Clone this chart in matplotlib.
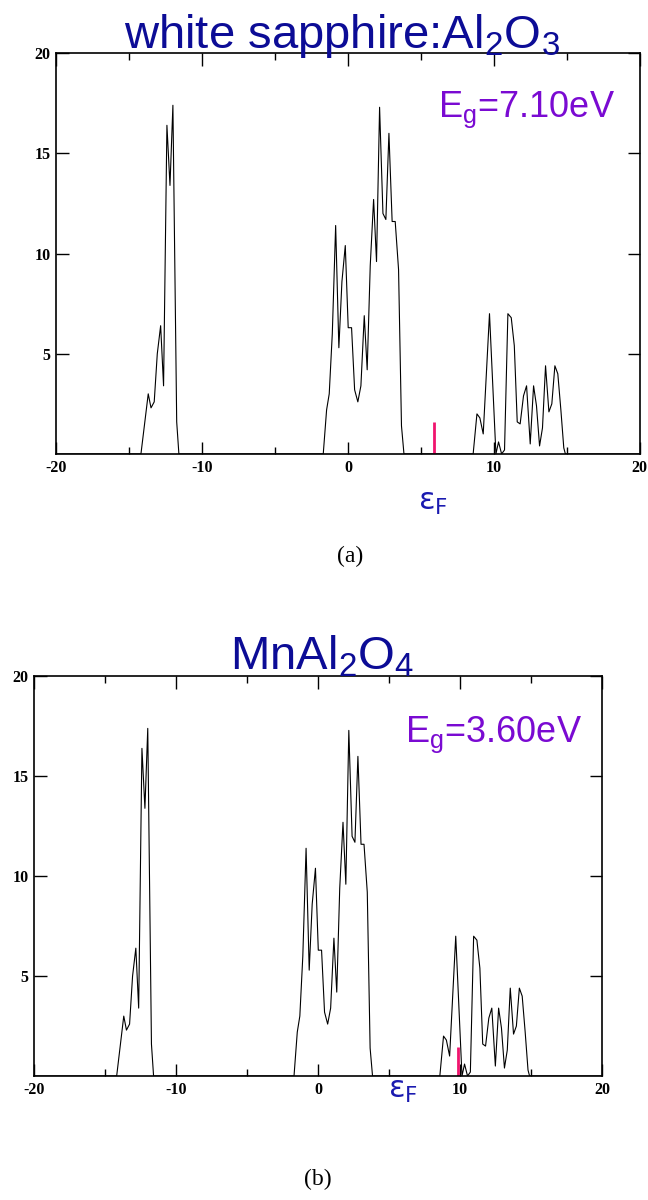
import matplotlib
matplotlib.use("Agg")
import matplotlib.pyplot as plt
from matplotlib.ticker import MultipleLocator

# density of states (same curve in both panels)
energy = [-20, -14.18, -13.68, -13.49, -13.27, -13.06, -12.83, -12.63, -12.40,
          -12.19, -11.99, -11.73, -11.58,
          -1.69, -1.46, -1.28, -1.07, -0.84, -0.62, -0.41, -0.18, 0.02, 0.25,
          0.46, 0.68, 0.89, 1.12, 1.32, 1.53, 1.76, 1.96, 2.17, 2.40, 2.60,
          2.81, 3.03, 3.24, 3.47, 3.67, 3.84,
          8.58, 8.84, 9.04, 9.27, 9.70, 10.14, 10.32, 10.53, 10.73, 10.96,
          11.19, 11.40, 11.60, 11.80, 12.03, 12.24, 12.49, 12.72, 12.92, 13.13,
          13.33, 13.54, 13.77, 13.97, 14.18, 14.38, 14.59, 14.79, 14.90, 20]
dos = [0, 0, 3.0, 2.3, 2.6, 5.0, 6.4, 3.4, 16.4,
       13.4, 17.4, 1.6, 0,
       0, 2.2, 3.0, 6.0, 11.4, 5.3, 8.6, 10.4, 6.3, 6.3,
       3.2, 2.6, 3.4, 6.9, 4.2, 9.4, 12.7, 9.6, 17.3, 12.0, 11.7,
       16.0, 11.6, 11.6, 9.2, 1.4, 0,
       0, 2.0, 1.8, 1.0, 7.0, 0, 0.6, 0, 0.2, 7.0,
       6.8, 5.4, 1.6, 1.5, 2.9, 3.4, 0.5, 3.4, 2.4, 0.4,
       1.3, 4.4, 2.1, 2.5, 4.4, 4.0, 2.2, 0.3, 0, 0]

titles = ["white sapphire:Al$_2$O$_3$", "MnAl$_2$O$_4$"]
gap_labels = ["E$_g$=7.10eV", "E$_g$=3.60eV"]
fermi = [5.9, 9.85]
fermi_height = [1.6, 1.45]
panel_labels = ["(a)", "(b)"]

plt.rcParams['mathtext.default'] = 'regular'
plt.rcParams['axes.unicode_minus'] = False

fig = plt.figure(figsize=(6.48, 12), dpi=100)
axes = [fig.add_axes([0.0864, 0.6217, 0.901, 0.334]),
        fig.add_axes([0.0525, 0.1033, 0.8765, 0.333])]

title_x = [0.49, 0.507]
title_y = [1.012, 1.018]
gap_x = [6.16, 6.13]
gap_y = [16.8, 16.7]
ef_x = [4.8, 4.9]
ef_y = [-0.14, -0.055]
panel_pos = [(0.54, 0.536), (0.49, 0.017)]

for i, ax in enumerate(axes):
    ax.plot(energy, dos, color='black', lw=0.8)
    ax.vlines(fermi[i], 0, fermi_height[i], color='#f0146e', lw=2.0)
    ax.set_xlim(-20, 20)
    ax.set_ylim(0, 20)
    ax.xaxis.set_major_locator(MultipleLocator(10))
    ax.xaxis.set_minor_locator(MultipleLocator(5))
    ax.set_yticks([5, 10, 15, 20])
    ax.tick_params(which='both', direction='in', top=True, right=True)
    ax.tick_params(which='major', length=9, width=1.0, pad=4)
    ax.tick_params(which='minor', length=5, width=1.0)
    for lab in ax.get_xticklabels() + ax.get_yticklabels():
        lab.set_fontfamily('Liberation Serif')
        lab.set_fontweight('bold')
        lab.set_fontsize(11.5)
    for sp in ax.spines.values():
        sp.set_linewidth(1.2)

    ax.text(title_x[i], title_y[i], titles[i], transform=ax.transAxes,
            ha='center', va='baseline', fontsize=34, color='#0c0c96',
            family='Liberation Sans')
    ax.text(gap_x[i], gap_y[i], gap_labels[i], ha='left', va='baseline',
            fontsize=26, color='#7a0ad2', family='Liberation Sans')
    ax.text(ef_x[i], ef_y[i], 'ε$_F$', transform=ax.get_xaxis_transform(),
            ha='left', va='baseline', fontsize=22, color='#1a1ab0',
            family='DejaVu Sans')
    fig.text(panel_pos[i][0], panel_pos[i][1], panel_labels[i], ha='center',
             va='center', fontsize=17, family='Liberation Serif')

fig.savefig('out.png', dpi=100)
